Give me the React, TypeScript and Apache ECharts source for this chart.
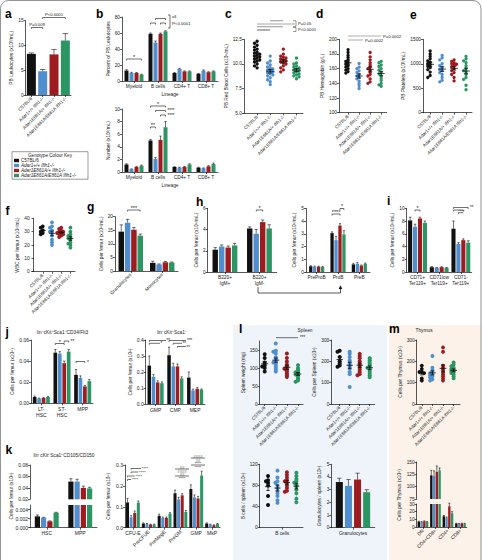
import React, { useEffect, useRef } from "react";
import * as echarts from "echarts";

const FONT = "'Liberation Sans', Arial, Helvetica, sans-serif";
const COLORS = ["#111111", "#4f8fd0", "#9e1b20", "#2b9563"];
const GENOTYPES = ["C57BL/6", "Adar1+/+ Ifih1-/-", "Adar1E861A/+ Ifih1-/-", "Adar1E861A/E861A Ifih1-/-"];

// a: PB leukocytes (bars per genotype)
const aValues = [8.3, 4.8, 8.2, 11.0];
const aErrors = [0.2, 0.35, 1.0, 1.4];

// b: lineages
const bLineages = ["Myeloid", "B cells", "CD4+ T", "CD8+ T"];
const bPercent = [[13, 59, 10, 9], [10, 48, 15, 13], [10, 59, 12, 11], [8, 62, 12, 12]];
const bPercentErr = [[1.2, 1, 0.5, 0.5], [0.8, 2, 0.8, 0.8], [0.6, 1, 0.6, 0.6], [0.5, 0.8, 0.6, 0.6]];
const bNumber = [[1.2, 5.0, 0.8, 0.7], [0.45, 2.1, 0.7, 0.6], [0.8, 5.1, 0.8, 0.9], [1.0, 7.1, 1.2, 1.25]];
const bNumberErr = [[0.1, 0.15, 0.05, 0.05], [0.05, 0.2, 0.05, 0.05], [0.1, 0.6, 0.07, 0.1], [0.1, 0.9, 0.1, 0.15]];

// c, d, e: dot plots
const cValues = [
  [12.3, 12.1, 11.9, 11.7, 11.5, 11.4, 11.2, 11.1, 11.0, 10.9, 10.8, 10.7, 10.6, 10.5, 10.4, 10.3, 10.2, 10.0, 9.8, 9.6],
  [10.8, 10.3, 10.1, 9.9, 9.7, 9.6, 9.5, 9.4, 9.3, 9.2, 9.1, 9.0, 8.9, 8.8, 8.6, 8.4, 8.2, 7.9],
  [11.5, 11.0, 10.8, 10.7, 10.6, 10.5, 10.4, 10.3, 10.2, 10.1, 10.0, 9.8, 9.6, 9.4, 9.2],
  [10.6, 10.1, 10.0, 9.8, 9.7, 9.6, 9.5, 9.4, 9.3, 9.2, 9.0, 8.9, 8.8, 8.7, 8.5, 9.1],
];
const dValues = [
  [186, 182, 178, 175, 172, 170, 168, 166, 164, 162, 160, 158, 156, 154],
  [167, 162, 160, 157, 155, 152, 150, 148, 146, 143, 140, 137, 133],
  [182, 176, 172, 168, 165, 162, 160, 158, 155, 152, 150, 146, 142, 140],
  [170, 168, 165, 163, 160, 158, 155, 153, 150, 147, 144, 140, 138, 136],
];
const eValues = [
  [1260, 1200, 1150, 1100, 1060, 1030, 1000, 980, 950, 920, 880, 830, 760, 720],
  [1170, 1120, 1080, 1000, 960, 920, 880, 860, 820, 780, 720, 660, 630],
  [1080, 1050, 1020, 1000, 990, 970, 940, 900, 860, 820, 780, 720, 650],
  [1150, 1100, 1060, 1020, 960, 900, 860, 830, 780, 720, 680, 560, 470],
];
// f: WBC per femur
const fValues = [
  [34, 33, 31, 30, 29, 28],
  [37, 34, 33, 31, 30, 29, 27, 24, 22, 20],
  [33, 32, 31, 30, 30, 29, 28, 28, 27, 26, 29],
  [33, 30, 28, 27, 26, 25, 24, 22, 20, 18, 21],
];
// g
const gCats = ["Granulocytes", "Monocytes"];
const gValues = [[14.5, 3.0], [17.8, 2.4], [15.2, 3.2], [13.0, 3.1]];
const gErrors = [[2.5, 0.6], [1.2, 0.2], [0.8, 0.3], [0.6, 0.2]];
// h
const hLeftCats = ["B220+\nIgM+", "B220+\nIgM-"];
const hLeftValues = [[2.1, 4.1], [2.4, 3.6], [2.3, 4.7], [2.5, 4.1]];
const hLeftErrors = [[0.2, 0.15], [0.15, 0.4], [0.15, 0.2], [0.2, 0.35]];
const hRightCats = ["PreProB", "ProB", "PreB"];
const hRightValues = [[0.45, 3.05, 0.6], [0.42, 2.5, 0.65], [0.42, 3.65, 0.5], [0.4, 2.95, 0.65]];
const hRightErrors = [[0.05, 0.1, 0.08], [0.04, 0.3, 0.1], [0.04, 0.15, 0.05], [0.04, 0.3, 0.05]];
// i
const iCats = ["CD71+\nTer119+", "CD71low\nTer119+", "CD71-\nTer119+"];
const iValues = [[8.1, 0.75, 6.8], [7.1, 0.65, 4.4], [8.4, 0.75, 5.0], [7.7, 0.65, 4.6]];
const iErrors = [[0.5, 0.1, 1.2], [0.4, 0.05, 0.2], [0.2, 0.08, 0.2], [0.3, 0.05, 0.3]];
// j
const jLeftCats = ["LT-\nHSC", "ST-\nHSC", "MPP"];
const jLeftValues = [[0.006, 0.048, 0.027], [0.0045, 0.047, 0.024], [0.005, 0.038, 0.016], [0.006, 0.049, 0.021]];
const jLeftErrors = [[0.0008, 0.003, 0.005], [0.0005, 0.002, 0.002], [0.0004, 0.002, 0.001], [0.0005, 0.002, 0.0015]];
const jRightCats = ["GMP", "CMP", "MEP"];
const jRightValues = [[0.24, 0.305, 0.165], [0.17, 0.235, 0.085], [0.135, 0.235, 0.095], [0.13, 0.16, 0.09]];
const jRightErrors = [[0.06, 0.05, 0.035], [0.015, 0.02, 0.008], [0.01, 0.015, 0.008], [0.008, 0.01, 0.004]];
// k
const kLeftCats = ["HSC", "MPP"];
const kLeftValues = [[0.0025, 0.051], [0.0022, 0.051], [0.0014, 0.040], [0.0033, 0.039]];
const kLeftErrors = [[0.0003, 0.005], [0.0001, 0.004], [0.0001, 0.003], [0.0001, 0.002]];
const kRightCats = ["CFU-E", "PreCFUE", "PreMegE", "PreGM", "GMP", "MkP"];
const kRightValues = [
  [0.12, 0.02, 0.057, 0.165, 0.185, 0.02],
  [0.05, 0.018, 0.047, 0.135, 0.145, 0.015],
  [0.07, 0.015, 0.047, 0.155, 0.14, 0.012],
  [0.12, 0.015, 0.068, 0.075, 0.25, 0.018],
];
const kRightErrors = [
  [0.02, 0.003, 0.008, 0.015, 0.02, 0.003],
  [0.008, 0.002, 0.004, 0.01, 0.012, 0.002],
  [0.01, 0.002, 0.004, 0.008, 0.01, 0.002],
  [0.008, 0.002, 0.004, 0.007, 0.02, 0.002],
];
// l: spleen
const lWeight = [
  [138, 128, 115, 108, 104, 100, 90],
  [168, 148, 145, 140, 130, 125, 120, 115, 110, 105, 100, 95, 90, 115],
  [140, 128, 118, 110, 105, 100, 95, 90, 85, 80, 75, 98],
  [108, 100, 95, 90, 88, 85, 82, 80, 75, 70, 65, 62],
];
const lCells = [
  [250, 245, 220, 200, 190, 180, 175],
  [245, 235, 220, 205, 195, 185, 175, 165, 150, 140, 80],
  [235, 225, 215, 200, 190, 180, 170, 160, 150, 140, 135],
  [215, 205, 195, 185, 175, 165, 155, 145, 135, 125, 170],
];
const lBcells = [
  [98, 90, 85, 80, 60, 43, 88],
  [108, 95, 88, 80, 75, 70, 65, 60, 52, 47, 85],
  [105, 100, 95, 90, 85, 80, 75, 70, 68, 88],
  [104, 98, 92, 88, 82, 78, 72, 65, 55, 48, 85],
];
const lGranCats = ["Granulocytes"];
const lGranValues = [[3.6], [3.3], [3.8], [2.8]];
const lGranErrors = [[0.3], [0.5], [0.5], [0.2]];
// m: thymus
const mCells = [
  [180, 165, 150, 145, 120, 110, 150],
  [225, 170, 160, 150, 145, 140, 135, 130, 125, 115, 110],
  [265, 245, 180, 170, 160, 150, 140, 130, 120, 110],
  [195, 185, 178, 170, 165, 160, 155, 150, 145, 140, 130, 120],
];
const mCats = ["DN", "CD4+CD8+", "CD4+", "CD8+"];
const mValues = [[7, 123, 14, 4.5], [6.5, 122, 12, 4.2], [7.5, 130, 27, 4.5], [6.5, 133, 18, 4.5]];
const mErrors = [[0.5, 10, 1, 0.3], [0.5, 10, 1, 0.3], [0.5, 12, 4, 0.3], [0.5, 5, 2, 0.3]];

function buildOption() {
  const grid: any[] = [], xAxis: any[] = [], yAxis: any[] = [], series: any[] = [], graphic: any[] = [];
  const AXLINE = { show: true, lineStyle: { color: "#111", width: 0.7 } };
  const TICK = { show: true, length: 2, lineStyle: { color: "#111", width: 0.7 } };
  const LBL = { fontSize: 4.8, color: "#222", fontFamily: FONT, margin: 2 };
  const NAME = { fontSize: 4.8, color: "#222", fontFamily: FONT };

  const addGrid = (x0: number, y0: number, x1: number, y1: number) => {
    grid.push({ left: x0, top: y0, width: x1 - x0, height: y1 - y0, show: false });
    return grid.length - 1;
  };
  const addY = (gi: number, min: number, max: number, ticks: number[], fmt: any, name = "", gap = 10, fs = 4.8) => {
    yAxis.push({
      type: "value", gridIndex: gi, min, max,
      axisLine: AXLINE, axisTick: { ...TICK, customValues: ticks },
      axisLabel: { ...LBL, fontSize: fs, customValues: ticks, formatter: fmt },
      splitLine: { show: false }, name, nameLocation: "middle", nameGap: gap, nameTextStyle: NAME,
    });
    return yAxis.length - 1;
  };
  const addXCat = (gi: number, cats: string[], o: any = {}) => {
    const ax: any = {
      type: "category", gridIndex: gi, data: cats, position: "bottom",
      axisLine: o.noLine ? { show: false } : AXLINE,
      axisTick: o.noTick ? { show: false } : { ...TICK, alignWithLabel: true },
      axisLabel: { ...LBL, fontSize: o.fs || 4.8, show: !o.noLabel, interval: 0, rotate: o.rotate || 0, margin: o.margin ?? 3, lineHeight: 5.5 },
      splitLine: { show: false }, name: o.name || "", nameLocation: "middle", nameGap: o.nameGap || 12, nameTextStyle: NAME,
    };
    if (o.fmt) ax.axisLabel.formatter = o.fmt;
    if (o.hidden) ax.show = false;
    xAxis.push(ax);
    return xAxis.length - 1;
  };
  const addXVal = (gi: number, min: number, max: number, o: any = {}) => {
    const vals = o.vals || [1, 2, 3, 4];
    const labels = o.labels || GENOTYPES;
    xAxis.push({
      type: "value", gridIndex: gi, min, max, position: "bottom",
      axisLine: AXLINE, axisTick: { ...TICK, customValues: vals },
      axisLabel: { ...LBL, fontSize: o.fs || 4.5, customValues: vals, formatter: (v: number) => labels[vals.indexOf(v)] ?? "", rotate: o.rotate ?? 45, margin: 3 },
      splitLine: { show: false },
    });
    return xAxis.length - 1;
  };
  const errorSeries = (xi: number, yi: number, items: number[][], n: number, bw: number, gap: number) => ({
    type: "custom", xAxisIndex: xi, yAxisIndex: yi, data: items, silent: true, z: 5,
    renderItem: (_p: any, api: any) => {
      const c = api.value(0), v = api.value(1), e = api.value(2), g = api.value(3);
      const p0 = api.coord([c, v]);
      const p1 = api.coord([c, v + e]);
      const x = p0[0] + (g - (n - 1) / 2) * bw * (1 + gap);
      const cw = Math.max(bw * 0.3, 1);
      const st = { stroke: "#111", lineWidth: 0.6 };
      return {
        type: "group", children: [
          { type: "line", shape: { x1: x, y1: p0[1], x2: x, y2: p1[1] }, style: st },
          { type: "line", shape: { x1: x - cw, y1: p1[1], x2: x + cw, y2: p1[1] }, style: st },
        ],
      };
    },
  });
  const addBars = (xi: number, yi: number, vals: number[][], errs: number[][], bw: number, gap: number, range?: number[]) => {
    const n = vals.length;
    vals.forEach((arr, g) => series.push({
      type: "bar", xAxisIndex: xi, yAxisIndex: yi, data: arr, barWidth: bw, barGap: `${gap * 100}%`,
      itemStyle: { color: COLORS[g] }, silent: true, clip: true,
    }));
    const items: number[][] = [];
    vals.forEach((arr, g) => arr.forEach((v, c) => {
      if (!range || (v >= range[0] && v <= range[1])) items.push([c, v, errs[g][c], g]);
    }));
    series.push(errorSeries(xi, yi, items, n, bw, gap));
  };
  const swarm = (arr: number[], thr: number, d: number) => {
    const idx = arr.map((_v, i) => i).sort((a, b) => arr[b] - arr[a]);
    const off = new Array(arr.length).fill(0);
    const placed: number[] = [];
    const seq = [0, -1, 1, -2, 2, -3, 3, -4, 4];
    idx.forEach((i) => {
      const near = placed.filter((j) => Math.abs(arr[j] - arr[i]) < thr).map((j) => off[j]);
      let o = 0;
      for (const s of seq) {
        const cand = s * d;
        if (!near.some((x) => Math.abs(x - cand) < d * 0.9)) { o = cand; break; }
      }
      off[i] = o;
      placed.push(i);
    });
    return off;
  };
  const addDots = (xi: number, yi: number, groups: number[][], size: number, thr: number, d: number, meanHalf = 0.32) => {
    groups.forEach((arr, g) => {
      const off = swarm(arr, thr, d);
      series.push({
        type: "scatter", xAxisIndex: xi, yAxisIndex: yi, data: arr.map((v, i) => [g + 1 + off[i], v]),
        symbolSize: size, itemStyle: { color: COLORS[g], opacity: 1 }, silent: true, z: 3,
      });
    });
    const stats = groups.map((arr, g) => {
      const n = arr.length;
      const m = arr.reduce((s, v) => s + v, 0) / n;
      const sd = Math.sqrt(arr.reduce((s, v) => s + (v - m) * (v - m), 0) / (n - 1));
      return [g + 1, m, sd / Math.sqrt(n)];
    });
    series.push({
      type: "custom", xAxisIndex: xi, yAxisIndex: yi, data: stats, silent: true, z: 4,
      renderItem: (_p: any, api: any) => {
        const x = api.value(0), m = api.value(1), s = api.value(2);
        const a = api.coord([x - meanHalf, m]), b = api.coord([x + meanHalf, m]);
        const t = api.coord([x, m + s]), bt = api.coord([x, m - s]);
        const cw = (b[0] - a[0]) * 0.28;
        const st = { stroke: "#111", lineWidth: 0.8 };
        return {
          type: "group", children: [
            { type: "line", shape: { x1: a[0], y1: a[1], x2: b[0], y2: b[1] }, style: st },
            { type: "line", shape: { x1: t[0], y1: t[1], x2: bt[0], y2: bt[1] }, style: st },
            { type: "line", shape: { x1: t[0] - cw, y1: t[1], x2: t[0] + cw, y2: t[1] }, style: st },
            { type: "line", shape: { x1: bt[0] - cw, y1: bt[1], x2: bt[0] + cw, y2: bt[1] }, style: st },
          ],
        };
      },
    });
  };

  // graphic helpers
  const T = (x: number, y: number, text: string, size = 5, align = "center", extra: any = {}, rot = 0) =>
    graphic.push({
      type: "text", x, y, rotation: rot, silent: true, z: 50,
      style: { text, fontSize: size, fontFamily: FONT, fill: "#222", align, textAlign: align, verticalAlign: "middle", textVerticalAlign: "middle", ...extra },
    });
  const L = (pts: number[][], color = "#111", w = 0.6) =>
    graphic.push({ type: "polyline", silent: true, z: 50, shape: { points: pts }, style: { stroke: color, lineWidth: w, fill: null } });
  const BR = (x1: number, x2: number, y: number, txt?: string | null, h = 1.5, size = 5.5) => {
    L([[x1, y + h], [x1, y], [x2, y], [x2, y + h]]);
    if (txt) T((x1 + x2) / 2, y - 1.6, txt, size);
  };

  // backgrounds & frame
  graphic.push({ type: "rect", silent: true, z: -100, shape: { x: 233, y: 325, width: 154, height: 235 }, style: { fill: "#eef4f9" } });
  graphic.push({ type: "rect", silent: true, z: -100, shape: { x: 389, y: 325, width: 92, height: 235 }, style: { fill: "#fcf2ea" } });
  graphic.push({ type: "rect", silent: true, z: 100, shape: { x: 0.5, y: 0.5, width: 480.5, height: 575, r: 8 }, style: { fill: null, stroke: "#777", lineWidth: 0.8 } });

  // ---- a ----
  {
    const gi = addGrid(25.7, 20.7, 71, 95);
    const xi = addXCat(gi, GENOTYPES, { rotate: 45, fs: 4.5 });
    const yi = addY(gi, 0, 15, [0, 5, 10, 15], (v: number) => String(v), "PB Leukocytes (x10³/mL)", 7.5);
    series.push({ type: "bar", xAxisIndex: xi, yAxisIndex: yi, data: aValues.map((v, i) => ({ value: v, itemStyle: { color: COLORS[i] } })), barWidth: 9, silent: true });
    series.push(errorSeries(xi, yi, aValues.map((v, i) => [i, v, aErrors[i], 0]), 1, 9, 0));
    BR(31.4, 42.7, 27.5, null); T(37, 24.8, "P=0.009", 4.2);
    BR(42.7, 65.3, 17.5, null); T(54, 14.8, "P<0.0001", 4.2);
  }
  // ---- b ----
  {
    const gi = addGrid(122, 17, 218, 81);
    const xi = addXCat(gi, bLineages, { name: "Lineage", nameGap: 11 });
    const yi = addY(gi, 0, 80, [0, 20, 40, 60, 80], (v: number) => String(v), "Percent of PB Leukocytes", 10);
    addBars(xi, yi, bPercent, bPercentErr, 4, 0.25);
    BR(126.5, 141.5, 59, "*");
    BR(150.5, 155.5, 23); BR(155.5, 165.5, 18.5); BR(160.5, 165.5, 23);
    L([[168, 15], [170, 15], [170, 28], [168, 28]]);
    T(172, 16, "all", 4.3, "left"); T(172, 23, "P<0.0001", 4.3, "left");

    const gi2 = addGrid(122, 109, 218, 172);
    const xi2 = addXCat(gi2, bLineages, { name: "Lineage", nameGap: 11 });
    const yi2 = addY(gi2, 0, 10, [0, 2, 4, 6, 8, 10], (v: number) => String(v), "Number (x10³/mL)", 10);
    addBars(xi2, yi2, bNumber, bNumberErr, 4, 0.25);
    BR(150.5, 155.5, 127, "**");
    BR(150.5, 165.5, 106, "*");
    BR(155.5, 165.5, 110.5); T(167.5, 110.8, "****", 4.5, "left");
    BR(160.5, 165.5, 115); T(167.5, 115.3, "****", 4.5, "left");
  }
  // ---- c ----
  {
    const gi = addGrid(244, 39.3, 303, 113.3);
    const xi = addXVal(gi, 0, 4.5);
    const yi = addY(gi, 5, 12.5, [5, 7.5, 10, 12.5], (v: number) => v.toFixed(1), "PB Red Blood Cells (x10⁶/mL)", 9);
    addDots(xi, yi, cValues, 3.3, 0.22, 0.2);
    const gc = "#a8a8a8";
    L([[270, 20.7], [283, 20.7]], gc, 1.2);
    L([[257, 24], [295, 24]], gc, 1.2);
    L([[257, 26.7], [283, 26.7]], gc, 1.2);
    L([[257, 30], [270, 30]], gc, 1.8);
    L([[293, 20.7], [296, 20.7], [296, 26.5], [293, 26.5]], "#333", 0.5);
    L([[293, 27.5], [296, 27.5], [296, 31.5], [293, 31.5]], "#333", 0.5);
    T(298, 23.5, "P=0.05", 4.2, "left");
    T(298, 29.8, "P<0.0001", 4.2, "left");
  }
  // ---- d ----
  {
    const gi = addGrid(339, 39.3, 386.7, 112.7);
    const xi = addXVal(gi, 0.18, 4.5);
    const yi = addY(gi, 100, 200, [100, 120, 140, 160, 180, 200], (v: number) => String(v), "PB Hemoglobin (g/L)", 11);
    addDots(xi, yi, dValues, 3.3, 3, 0.2);
    const gc = "#777";
    L([[348, 36], [381, 36]], gc, 0.6); T(383, 36, "P=0.0002", 4.2, "left");
    L([[348, 40], [363, 40]], gc, 0.6); T(365, 40, "P=0.0002", 4.2, "left");
  }
  // ---- e ----
  {
    const gi = addGrid(423, 39.3, 472, 112.7);
    const xi = addXVal(gi, 0.4, 4.5);
    const yi = addY(gi, 0, 1500, [0, 500, 1000, 1500], (v: number) => String(v), "PB Platelets (x10³/mL)", 12);
    addDots(xi, yi, eValues, 3.3, 45, 0.2);
  }
  // ---- legend ----
  graphic.push({ type: "rect", silent: true, z: 40, shape: { x: 12, y: 151.7, width: 76, height: 27.5 }, style: { fill: "#fff", stroke: "#555", lineWidth: 0.6 } });
  T(50, 155, "Genotype Colour Key", 4.6);
  GENOTYPES.forEach((gname, i) => {
    graphic.push({ type: "rect", silent: true, z: 50, shape: { x: 14, y: 158.8 + i * 5, width: 5, height: 3.4 }, style: { fill: COLORS[i] } });
    T(21, 160.5 + i * 5, gname, 4.6, "left", i > 0 ? { fontStyle: "italic" } : {});
  });
  // ---- f ----
  {
    const gi = addGrid(31.7, 218.3, 75, 271.7);
    const xi = addXVal(gi, -0.2, 4.5);
    const yi = addY(gi, 0, 40, [0, 10, 20, 30, 40], (v: number) => String(v), "WBC per femur (x10⁶/mL)", 10);
    addDots(xi, yi, fValues, 3.8, 1.2, 0.22);
  }
  // ---- g ----
  {
    const gi = addGrid(115, 216.7, 178, 271);
    const xi = addXCat(gi, gCats, { rotate: 45 });
    const yi = addY(gi, 0, 20, [0, 5, 10, 15, 20], (v: number) => String(v), "Cells per femur (x10⁶/mL)", 9);
    addBars(xi, yi, gValues, gErrors, 5.5, 0.15);
    BR(127.6, 140.2, 210, "***");
  }
  // ---- h ----
  {
    const gi = addGrid(207.7, 208.3, 276.7, 272);
    const xi = addXCat(gi, hLeftCats, {});
    const yi = addY(gi, 0, 6, [0, 2, 4, 6], (v: number) => String(v), "Cells per femur (x10⁶/mL)", 5);
    addBars(xi, yi, hLeftValues, hLeftErrors, 5.4, 0.2);
    BR(256.3, 262.7, 210, "*");

    const gi2 = addGrid(306, 208.3, 370, 272);
    const xi2 = addXCat(gi2, hRightCats, {});
    const yi2 = addY(gi2, 0, 5, [0, 1, 2, 3, 4, 5], (v: number) => String(v), "Cells per femur (x10⁶/mL)", 5);
    addBars(xi2, yi2, hRightValues, hRightErrors, 3.3, 0.2);
    BR(332.1, 340, 214, "****");
    BR(340, 343.9, 208.5, null); T(342, 205.5, "*", 5.5);

    L([[258, 287], [258, 293], [340.5, 293], [340.5, 288]], "#111", 0.7);
    graphic.push({ type: "polygon", silent: true, z: 50, shape: { points: [[338.7, 289], [342.3, 289], [340.5, 285.3]] }, style: { fill: "#111" } });
  }
  // ---- i ----
  {
    const gi = addGrid(406.7, 208.3, 471.7, 272);
    const xi = addXCat(gi, iCats, {});
    const yi = addY(gi, 0, 10, [0, 2, 4, 6, 8, 10], (v: number) => String(v), "Cells per femur (x10⁶/mL)", 6);
    addBars(xi, yi, iValues, iErrors, 4.1, 0.2);
    BR(415, 420, 210, "*");
    L([[453.4, 209], [453.4, 207.5], [468.2, 207.5], [468.2, 209]]); T(470, 207.3, "**", 4.5, "left");
    L([[453.4, 211.5], [453.4, 210], [463.3, 210], [463.3, 211.5]]); T(458, 211.8, "****", 4.2, "left");
    L([[458.3, 214], [458.3, 212.7], [463.3, 212.7]]);
  }
  // ---- j ----
  {
    T(62.5, 332.3, "lin⁻cKit⁺Sca1⁺CD34/Flt3", 4.8);
    const gi = addGrid(31, 340, 93, 403.3);
    const xi = addXCat(gi, jLeftCats, { fs: 5 });
    const yi = addY(gi, 0, 0.06, [0, 0.02, 0.04, 0.06], (v: number) => v.toFixed(2), "Cells per femur (x10⁶)", 15, 5);
    addBars(xi, yi, jLeftValues, jLeftErrors, 3.7, 0.2);
    BR(55.3, 64.2, 343.5, "*");
    BR(64.2, 68.7, 341); T(70.5, 341, "**", 5, "left");
    BR(76, 84.9, 361.5); T(87, 361.5, "*", 5, "left");

    T(172, 332.3, "lin⁻cKit⁺Sca1⁻", 4.8);
    const gi2 = addGrid(145.7, 340, 205, 404);
    const xi2 = addXCat(gi2, jRightCats, { fs: 5 });
    const yi2 = addY(gi2, 0, 0.4, [0, 0.1, 0.2, 0.3, 0.4], (v: number) => v.toFixed(1), "Cells per femur (x10⁶)", 13, 5);
    addBars(xi2, yi2, jRightValues, jRightErrors, 3.5, 0.2);
    L([[149.3, 342], [149.3, 340.5], [166, 340.5]]); T(166.5, 340.5, "**", 4.5, "left");
    L([[149.3, 344.8], [149.3, 343.3], [160, 343.3]]); T(160.5, 343.8, "*", 4.5, "left");
    L([[169, 342], [169, 340.5], [186, 340.5]]); T(187, 340.3, "***", 4.5, "left");
    L([[173.2, 344.8], [173.2, 343.3], [182, 343.3]]); T(182.5, 343.8, "**", 4.5, "left");
    L([[177.4, 347.8], [177.4, 346.5], [186, 346.5]]); T(186.5, 347, "**", 4.5, "left");
  }
  // ---- k ----
  {
    T(64, 455, "lin⁻cKit⁺Sca1⁺CD105/CD150", 4.8);
    const giT = addGrid(30, 465, 97, 499.3);
    const xiT = addXCat(giT, kLeftCats, { hidden: true });
    const yiT = addY(giT, 0.02, 0.08, [0.02, 0.04, 0.06, 0.08], (v: number) => v.toFixed(2), "", 10, 5);
    addBars(xiT, yiT, kLeftValues, kLeftErrors, 5.2, 0.2, [0.02, 0.08]);
    const giB = addGrid(30, 505, 97, 527.7);
    const xiB = addXCat(giB, kLeftCats, { fs: 5 });
    const yiB = addY(giB, 0, 0.005, [0, 0.002, 0.004], (v: number) => v.toFixed(3), "", 10, 5);
    addBars(xiB, yiB, kLeftValues, kLeftErrors, 5.2, 0.2, [0, 0.005]);
    T(11, 496, "Cells per femur (x10⁶)", 4.8, "center", {}, Math.PI / 2);

    const gi = addGrid(125, 465, 220, 527.7);
    const flat = ["CFU-E", "GMP", "MkP"];
    const xi = addXCat(gi, kRightCats, { fs: 5, fmt: (v: string) => (flat.includes(v) ? v : "") });
    addXCat(gi, kRightCats, { fs: 5, rotate: 45, noLine: true, noTick: true, fmt: (v: string) => (flat.includes(v) ? "" : v) });
    const yi = addY(gi, 0, 0.3, [0, 0.1, 0.2, 0.3], (v: number) => v.toFixed(1), "Cells per femur (x10⁶)", 14, 5);
    addBars(xi, yi, kRightValues, kRightErrors, 3, 0.2);
    L([[131.1, 469.8], [131.1, 468.5], [141, 468.5]]); T(141.5, 468.5, "****", 4.2, "left");
    L([[131.1, 473.3], [131.1, 472], [138.3, 472]]); T(139, 472, "****", 4.2, "left");
    L([[127.5, 477.3], [127.5, 476], [134.7, 476]]); T(135.5, 476, "****", 4.2, "left");
    L([[127.5, 480.8], [127.5, 479.5], [131.1, 479.5]]); T(131.8, 479.7, "****", 4.2, "left");
    T(182, 467.5, "##", 4.2); T(182, 471, "####", 4.2); T(182, 474.5, "##", 4.2); T(182, 478, "****", 4.2);
    L([[175, 469], [189, 469]]); L([[175, 476], [189, 476]]);
    T(198, 456.5, "####", 4.2); T(198, 460, "##", 4.2); T(198, 463.5, "****", 4.2); T(198, 467, "****", 4.2);
    L([[191, 458], [205, 458]]); L([[191, 465], [205, 465]]);
  }
  // ---- l ----
  {
    T(305, 330, "Spleen", 4.8);
    const gi = addGrid(259.7, 341, 303, 404);
    const xi = addXVal(gi, 0.55, 4.45);
    const yi = addY(gi, 0, 175, [0, 50, 100, 150], (v: number) => String(v), "Spleen weight (mg)", 13);
    addDots(xi, yi, lWeight, 4, 4.5, 0.22);
    L([[276, 337.7], [298, 337.7]], "#111", 0.6); T(300, 337.7, "***", 4.5, "left");

    const gi2 = addGrid(331.3, 340, 374.7, 404);
    const xi2 = addXVal(gi2, 0.16, 4.5);
    const yi2 = addY(gi2, 0, 300, [0, 100, 200, 300], (v: number) => String(v), "Cells per Spleen (x10⁶)", 12);
    addDots(xi2, yi2, lCells, 4, 8, 0.22);

    const gi3 = addGrid(259.7, 464.3, 303, 527.7);
    const xi3 = addXVal(gi3, 0.12, 4.7, { vals: [2.5], labels: ["B cells"], rotate: 0, fs: 4.8 });
    const yi3 = addY(gi3, 0, 120, [0, 40, 80, 120], (v: number) => String(v), "B cells / spleen (x10⁶)", 12);
    addDots(xi3, yi3, lBcells, 4, 3.2, 0.22);

    const gi4 = addGrid(331.3, 464.3, 374.7, 527.7);
    const xi4 = addXCat(gi4, lGranCats, {});
    const yi4 = addY(gi4, 0, 5, [0, 1, 2, 3, 4, 5], (v: number) => String(v), "Granulocytes / spleen (x10⁶)", 9);
    addBars(xi4, yi4, lGranValues, lGranErrors, 7, 0.3);
  }
  // ---- m ----
  {
    T(424, 330, "Thymus", 4.8);
    const gi = addGrid(416.7, 340, 460, 404);
    const xi = addXVal(gi, 0.52, 4.6);
    const yi = addY(gi, 0, 300, [0, 100, 200, 300], (v: number) => String(v), "Cells per Thymus (x10⁶)", 12);
    addDots(xi, yi, mCells, 3.8, 8, 0.22);

    const giT = addGrid(416.7, 462, 466.7, 499);
    const xiT = addXCat(giT, mCats, { hidden: true });
    const yiT = addY(giT, 75, 150, [75, 100, 125, 150], (v: number) => String(v), "", 10);
    addBars(xiT, yiT, mValues, mErrors, 2.4, 0.15, [75, 150]);
    const giB = addGrid(416.7, 504, 466.7, 527);
    const xiB = addXCat(giB, mCats, { rotate: 45 });
    const yiB = addY(giB, 0, 30, [0, 10, 20, 30], (v: number) => String(v), "", 10);
    addBars(xiB, yiB, mValues, mErrors, 2.4, 0.15, [0, 30]);
    T(399, 495, "Cells per Thymus (x10⁶)", 4.8, "center", {}, Math.PI / 2);
  }

  // panel letters
  const letter = (x: number, y: number, t: string) => T(x, y, t, 12, "left", { fontWeight: "bold", fill: "#000" });
  letter(5, 14, "a"); letter(96, 14, "b"); letter(225, 14, "c"); letter(316, 14, "d"); letter(410, 14.5, "e");
  letter(5.5, 211, "f"); letter(87, 207, "g"); letter(196, 202, "h"); letter(387, 201, "i");
  letter(5.5, 332, "j"); letter(5.5, 450, "k"); letter(239, 329, "l"); letter(389, 329, "m");

  return {
    animation: false,
    backgroundColor: "#ffffff",
    textStyle: { fontFamily: FONT },
    grid, xAxis, yAxis, series, graphic: { elements: graphic },
  };
}

export default function App() {
  const ref = useRef<HTMLDivElement>(null);
  useEffect(() => {
    document.body.style.margin = "0";
    const chart = echarts.init(ref.current!, null, { renderer: "svg" });
    chart.setOption(buildOption() as any);
    return () => chart.dispose();
  }, []);
  return <div ref={ref} style={{ position: "absolute", left: 0, top: 0, width: 482, height: 560 }} />;
}
